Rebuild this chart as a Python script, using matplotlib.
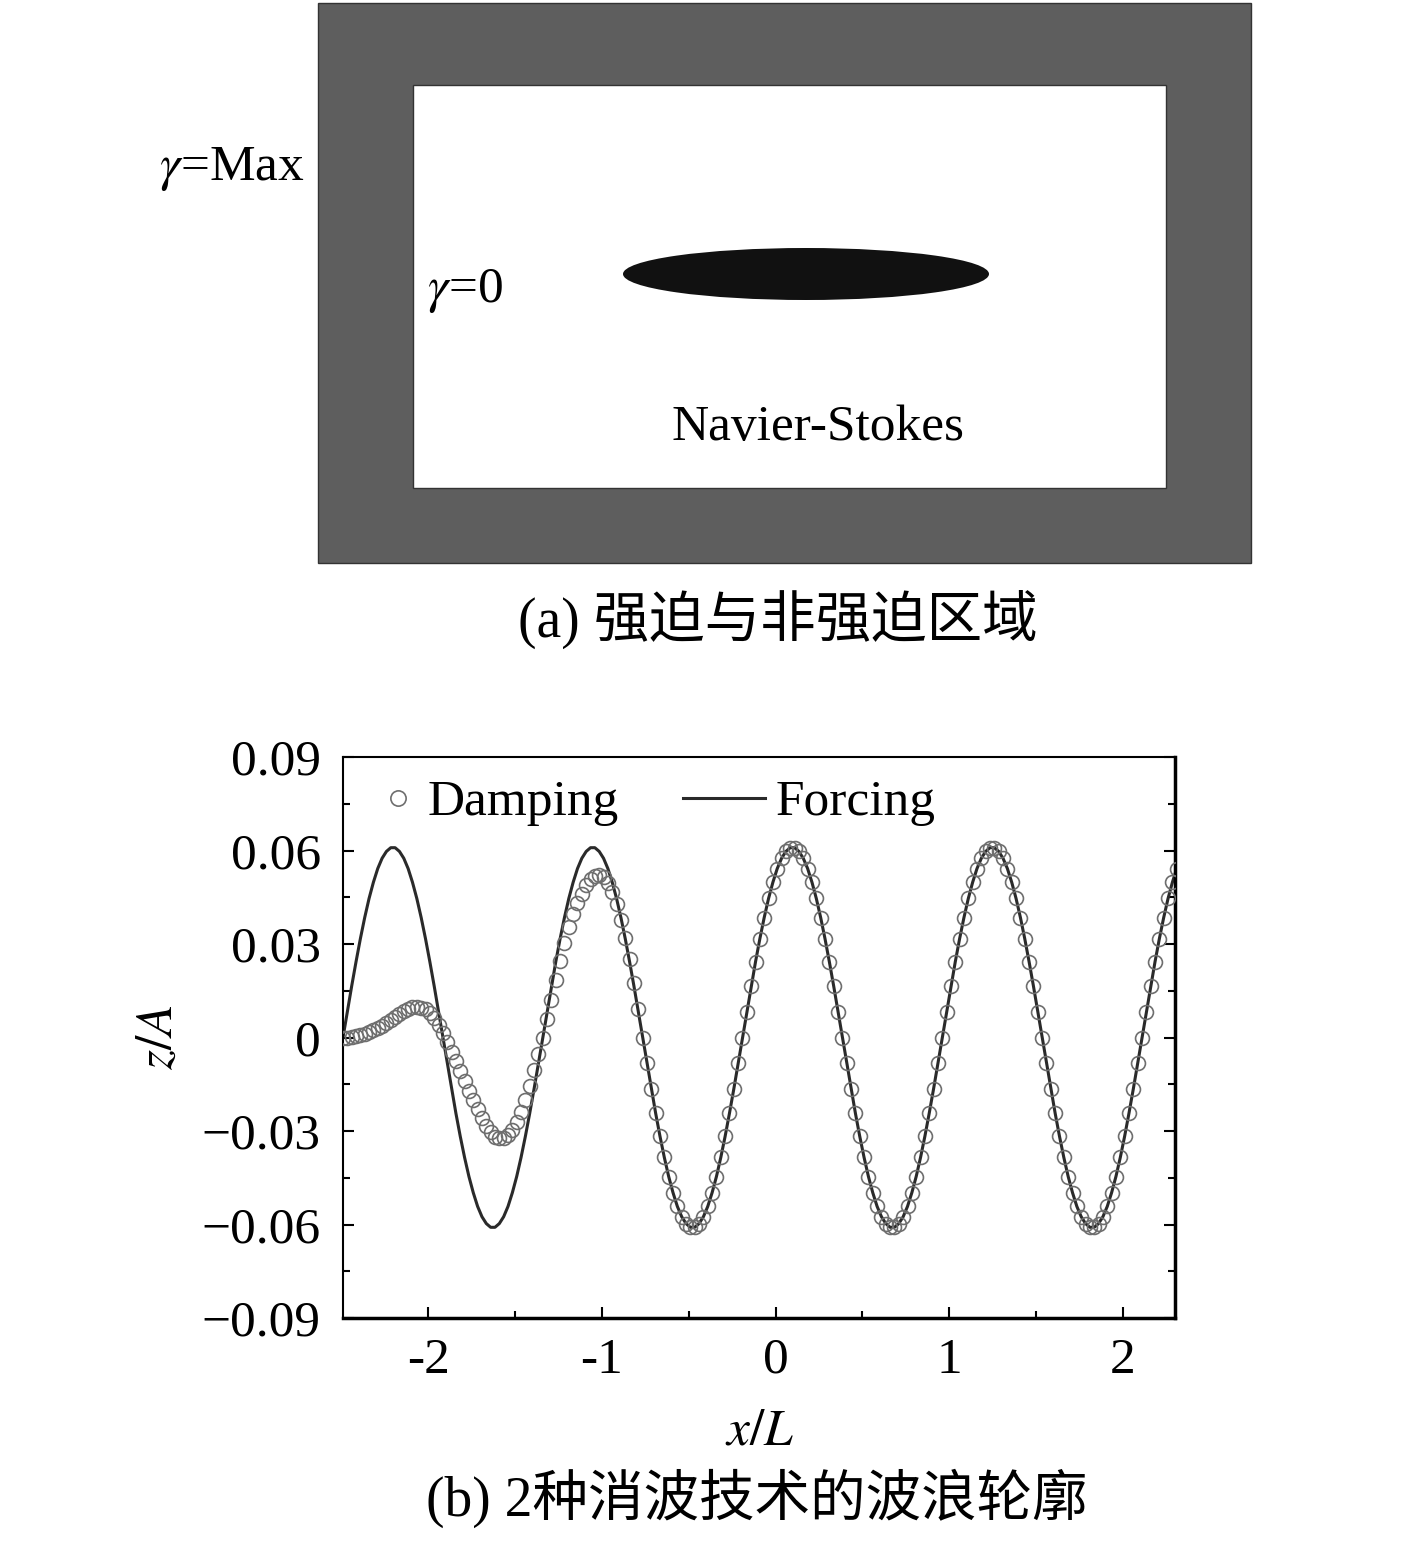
import numpy as np
import matplotlib
matplotlib.use('Agg')
import matplotlib.pyplot as plt
from matplotlib.patches import Rectangle, Ellipse
from matplotlib.ticker import MultipleLocator

plt.rcParams['font.family'] = ['Liberation Serif', 'Noto Sans CJK SC']
plt.rcParams['mathtext.fontset'] = 'stix'

x_start = -2.49
x_step = 0.025

forcing = [
    0.0000, 0.0083, 0.0165, 0.0243, 0.0317, 0.0385, 0.0446, 0.0498, 0.0542, 0.0575, 0.0597, 0.0609,
    0.0609, 0.0597, 0.0575, 0.0542, 0.0498, 0.0446, 0.0385, 0.0317, 0.0243, 0.0165, 0.0083,
    0.0000, -0.0083, -0.0165, -0.0243, -0.0317, -0.0385, -0.0446, -0.0498, -0.0542, -0.0575, -0.0597, -0.0609,
    -0.0609, -0.0597, -0.0575, -0.0542, -0.0498, -0.0446, -0.0385, -0.0317, -0.0243, -0.0165, -0.0083,
    0.0000, 0.0083, 0.0165, 0.0243, 0.0317, 0.0385, 0.0446, 0.0498, 0.0542, 0.0575, 0.0597, 0.0609,
    0.0609, 0.0597, 0.0575, 0.0542, 0.0498, 0.0446, 0.0385, 0.0317, 0.0243, 0.0165, 0.0083,
    0.0000, -0.0083, -0.0165, -0.0243, -0.0317, -0.0385, -0.0446, -0.0498, -0.0542, -0.0575, -0.0597, -0.0609,
    -0.0609, -0.0597, -0.0575, -0.0542, -0.0498, -0.0446, -0.0385, -0.0317, -0.0243, -0.0165, -0.0083,
    0.0000, 0.0083, 0.0165, 0.0243, 0.0317, 0.0385, 0.0446, 0.0498, 0.0542, 0.0575, 0.0597, 0.0609,
    0.0609, 0.0597, 0.0575, 0.0542, 0.0498, 0.0446, 0.0385, 0.0317, 0.0243, 0.0165, 0.0083,
    0.0000, -0.0083, -0.0165, -0.0243, -0.0317, -0.0385, -0.0446, -0.0498, -0.0542, -0.0575, -0.0597, -0.0609,
    -0.0609, -0.0597, -0.0575, -0.0542, -0.0498, -0.0446, -0.0385, -0.0317, -0.0243, -0.0165, -0.0083,
    0.0000, 0.0083, 0.0165, 0.0243, 0.0317, 0.0385, 0.0446, 0.0498, 0.0542, 0.0575, 0.0597, 0.0609,
    0.0609, 0.0597, 0.0575, 0.0542, 0.0498, 0.0446, 0.0385, 0.0317, 0.0243, 0.0165, 0.0083,
    0.0000, -0.0083, -0.0165, -0.0243, -0.0317, -0.0385, -0.0446, -0.0498, -0.0542, -0.0575, -0.0597, -0.0609,
    -0.0609, -0.0597, -0.0575, -0.0542, -0.0498, -0.0446, -0.0385, -0.0317, -0.0243, -0.0165, -0.0083,
    0.0000, 0.0083, 0.0165, 0.0243, 0.0317, 0.0385, 0.0446, 0.0498, 0.0542,
]

damping = [
    0.0000, 0.0000, 0.0002, 0.0004, 0.0008, 0.0012, 0.0017, 0.0023, 0.0030, 0.0038,
    0.0047, 0.0057, 0.0067, 0.0077, 0.0086, 0.0093, 0.0097, 0.0098, 0.0096, 0.0090,
    0.0079, 0.0062, 0.0040, 0.0014, -0.0015, -0.0045, -0.0077, -0.0108, -0.0140, -0.0171,
    -0.0201, -0.0230, -0.0258, -0.0283, -0.0304, -0.0318, -0.0324, -0.0322, -0.0313, -0.0296,
    -0.0271, -0.0239, -0.0200, -0.0155, -0.0105, -0.0053, 0.0000, 0.0058, 0.0120, 0.0184,
    0.0245, 0.0302, 0.0353, 0.0396, 0.0432, 0.0462, 0.0488, 0.0507, 0.0518, 0.0521,
    0.0514, 0.0497, 0.0468, 0.0427, 0.0377, 0.0318, 0.0252, 0.0175, 0.0090, 0.0000,
    -0.0083, -0.0165, -0.0243, -0.0317, -0.0385, -0.0446, -0.0498, -0.0542, -0.0575, -0.0597, -0.0609,
    -0.0609, -0.0597, -0.0575, -0.0542, -0.0498, -0.0446, -0.0385, -0.0317, -0.0243, -0.0165, -0.0083,
    0.0000, 0.0083, 0.0165, 0.0243, 0.0317, 0.0385, 0.0446, 0.0498, 0.0542, 0.0575, 0.0597, 0.0609,
    0.0609, 0.0597, 0.0575, 0.0542, 0.0498, 0.0446, 0.0385, 0.0317, 0.0243, 0.0165, 0.0083,
    0.0000, -0.0083, -0.0165, -0.0243, -0.0317, -0.0385, -0.0446, -0.0498, -0.0542, -0.0575, -0.0597, -0.0609,
    -0.0609, -0.0597, -0.0575, -0.0542, -0.0498, -0.0446, -0.0385, -0.0317, -0.0243, -0.0165, -0.0083,
    0.0000, 0.0083, 0.0165, 0.0243, 0.0317, 0.0385, 0.0446, 0.0498, 0.0542, 0.0575, 0.0597, 0.0609,
    0.0609, 0.0597, 0.0575, 0.0542, 0.0498, 0.0446, 0.0385, 0.0317, 0.0243, 0.0165, 0.0083,
    0.0000, -0.0083, -0.0165, -0.0243, -0.0317, -0.0385, -0.0446, -0.0498, -0.0542, -0.0575, -0.0597, -0.0609,
    -0.0609, -0.0597, -0.0575, -0.0542, -0.0498, -0.0446, -0.0385, -0.0317, -0.0243, -0.0165, -0.0083,
    0.0000, 0.0083, 0.0165, 0.0243, 0.0317, 0.0385, 0.0446, 0.0498, 0.0542,
]

x_ticks = [-2, -1, 0, 1, 2]
x_tick_labels = ['-2', '-1', '0', '1', '2']
y_ticks = [-0.09, -0.06, -0.03, 0, 0.03, 0.06, 0.09]
y_tick_labels = ['\u22120.09', '\u22120.06', '\u22120.03', '0', '0.03', '0.06', '0.09']

caption_a = '(a) 强迫与非强迫区域'
caption_b = '(b) 2种消波技术的波浪轮廓'

x = x_start + x_step * np.arange(len(forcing))

FS = 37
FS_CAP = 40
W, H = 1417, 1545

fig = plt.figure(figsize=(W / 100, H / 100), dpi=100)

# overlay in pixel coordinates for the sketch and free text
ov = fig.add_axes([0, 0, 1, 1])
ov.set_xlim(0, W)
ov.set_ylim(H, 0)
ov.axis('off')

# (a) forcing / non-forcing zones sketch
ov.add_patch(Rectangle((318, 3), 933, 560, facecolor='#5e5e5e', edgecolor='#333333', lw=1))
ov.add_patch(Rectangle((413, 85), 753, 403, facecolor='white', edgecolor='#333333', lw=1))
ov.add_patch(Ellipse((806, 274), 366, 52, facecolor='#111111', edgecolor='none'))
ov.text(305, 180, r'$\gamma$=Max', fontsize=FS, ha='right', va='baseline')
ov.text(427, 302, r'$\gamma$=0', fontsize=FS, ha='left', va='baseline')
ov.text(818, 440, 'Navier-Stokes', fontsize=FS, ha='center', va='baseline')
ov.text(778, 619, caption_a, fontsize=FS_CAP, ha='center', va='center')

# (b) wave profiles
ax = fig.add_axes([343 / W, 1 - 1318 / H, 832 / W, 561 / H])
ax.plot(x, forcing, color='#2a2a2a', lw=2.2, label='Forcing', zorder=2)
ax.plot(x, damping, ls='none', marker='o', ms=10, mfc='none', mec='#6e6e6e', mew=1.2,
        label='Damping', zorder=3)

ax.set_xlim(-2.49, 2.30)
ax.set_ylim(-0.09, 0.09)
ax.set_xticks(x_ticks)
ax.set_xticklabels(x_tick_labels)
ax.set_yticks(y_ticks)
ax.set_yticklabels(y_tick_labels)
ax.xaxis.set_minor_locator(MultipleLocator(0.5))
ax.yaxis.set_minor_locator(MultipleLocator(0.015))
ax.tick_params(which='both', direction='in', top=False, right=True, width=1.5, labelsize=FS)
ax.tick_params(which='major', length=8)
ax.tick_params(which='minor', length=5)
ax.tick_params(axis='x', pad=14)
ax.tick_params(axis='y', pad=16)
for side, lw in [('left', 1.5), ('top', 1.5), ('bottom', 2.5), ('right', 2.5)]:
    ax.spines[side].set_linewidth(lw)

handles, labels = ax.get_legend_handles_labels()
leg1 = ax.legend([handles[1]], [labels[1]], loc='center left', bbox_to_anchor=(0.048, 0.918),
                 frameon=False, fontsize=FS, handlelength=0.6, handletextpad=0.26,
                 borderpad=0, borderaxespad=0, numpoints=1, markerscale=1.1)
ax.add_artist(leg1)
ax.legend([handles[0]], [labels[0]], loc='center left', bbox_to_anchor=(0.4087, 0.918),
          frameon=False, fontsize=FS, handlelength=1.6, handletextpad=0.2,
          borderpad=0, borderaxespad=0)

ov.text(160, 1037, '$z/A$', fontsize=FS, rotation=90, ha='center', va='center')
ov.text(760, 1432, '$x/L$', fontsize=FS, ha='center', va='center')
ov.text(757, 1498, caption_b, fontsize=FS_CAP, ha='center', va='center')

fig.savefig('out.png', dpi=100)
